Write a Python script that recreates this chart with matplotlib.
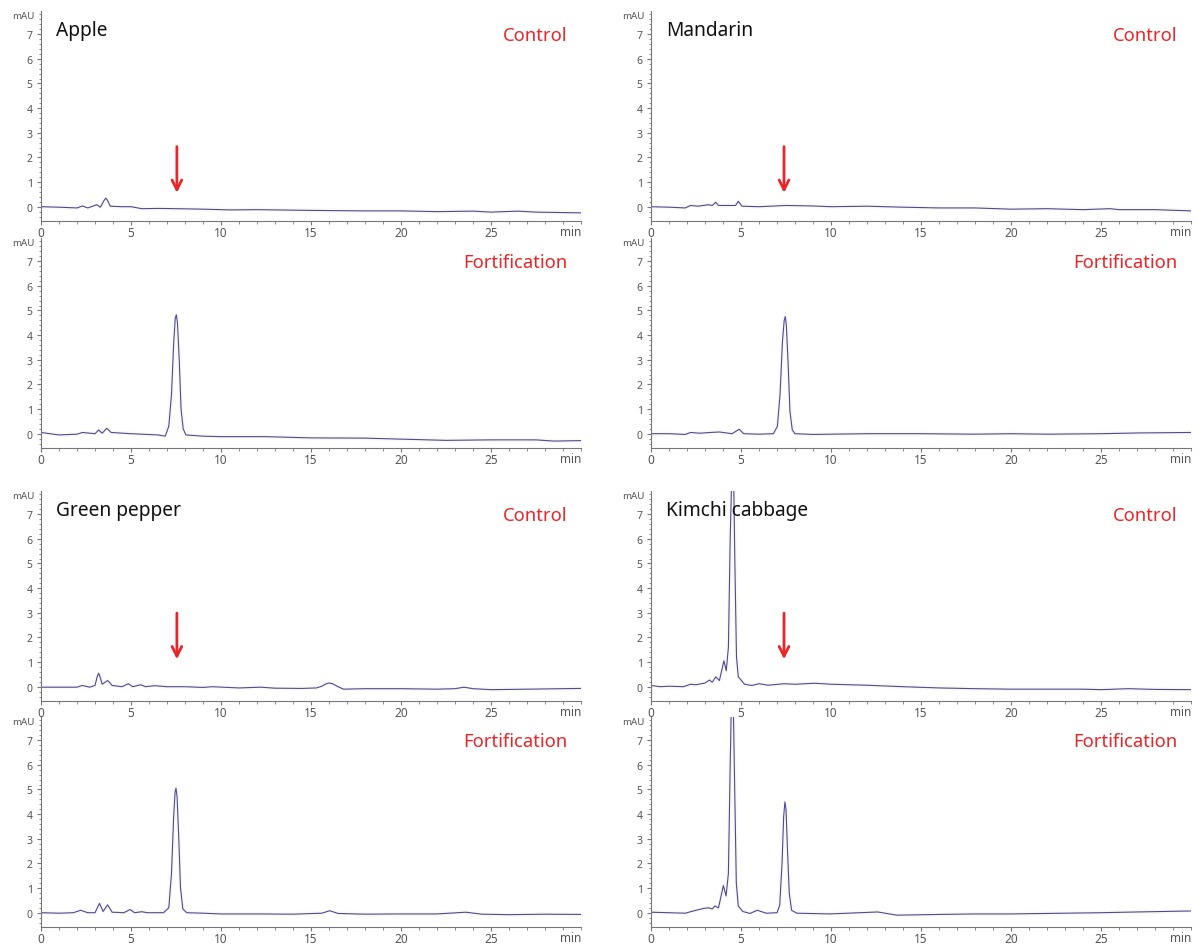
import matplotlib
matplotlib.use('Agg')
import matplotlib.pyplot as plt
from matplotlib.ticker import MultipleLocator, FixedLocator
import matplotlib.transforms as mtransforms

plt.rcParams['font.family'] = ['Noto Sans', 'DejaVu Sans']

# ---- chromatogram traces (time in min, signal in mAU) ----
apple_ctrl_t = [0, 1, 2, 2.3, 2.6, 3.1, 3.3, 3.5, 3.6, 3.7, 3.85, 4.5, 5, 5.6, 6.5, 7.5, 9, 10.5, 12, 15, 18, 20, 22, 24, 25, 26.5, 27.5, 30]
apple_ctrl_y = [0.0, -0.02, -0.05, 0.03, -0.05, 0.08, -0.02, 0.25, 0.35, 0.25, 0.02, 0.0, 0.0, -0.08, -0.07, -0.08, -0.1, -0.13, -0.12, -0.15, -0.17, -0.17, -0.2, -0.18, -0.22, -0.18, -0.22, -0.25]

apple_fort_t = [0, 1, 2, 2.3, 3, 3.2, 3.4, 3.65, 3.9, 5, 6.5, 6.9, 7.1, 7.25, 7.38, 7.46, 7.52, 7.58, 7.68, 7.78, 7.9, 8.05, 9, 10, 12.5, 15, 18, 20, 22.5, 25, 27.5, 28.5, 30]
apple_fort_y = [0.05, -0.05, -0.02, 0.05, 0.0, 0.15, 0.02, 0.22, 0.05, 0.0, -0.05, -0.1, 0.3, 1.6, 3.8, 4.7, 4.82, 4.5, 3.0, 1.0, 0.2, -0.05, -0.1, -0.12, -0.12, -0.17, -0.18, -0.22, -0.27, -0.25, -0.25, -0.3, -0.28]

mandarin_ctrl_t = [0, 1, 1.9, 2.2, 2.6, 3.2, 3.4, 3.6, 3.75, 4.7, 4.85, 5.05, 6, 7.5, 9, 10, 12, 14, 16, 18, 20, 22, 24, 25.5, 26, 28, 30]
mandarin_ctrl_y = [0.0, -0.02, -0.05, 0.05, 0.02, 0.08, 0.05, 0.18, 0.05, 0.05, 0.22, 0.02, 0.0, 0.05, 0.03, 0.0, 0.02, -0.02, -0.05, -0.05, -0.1, -0.08, -0.12, -0.08, -0.12, -0.12, -0.17]

mandarin_fort_t = [0, 1, 1.9, 2.2, 2.7, 3.3, 3.8, 4.5, 4.9, 5.15, 6, 6.8, 7.02, 7.17, 7.3, 7.4, 7.46, 7.52, 7.62, 7.72, 7.85, 8.0, 9, 10, 12, 15, 18, 20, 22, 25, 27, 30]
mandarin_fort_y = [0.0, 0.0, -0.03, 0.05, 0.02, 0.05, 0.07, 0.0, 0.18, 0.0, -0.02, 0.0, 0.3, 1.6, 3.7, 4.6, 4.75, 4.4, 2.8, 0.9, 0.15, 0.0, -0.03, -0.02, 0.0, 0.0, -0.02, 0.0, -0.02, 0.0, 0.03, 0.05]

pepper_ctrl_t = [0, 1, 2, 2.3, 2.7, 3.0, 3.12, 3.2, 3.28, 3.4, 3.6, 3.7, 3.8, 3.95, 4.5, 4.85, 5.1, 5.55, 5.8, 6.3, 7, 8, 9, 9.5, 11, 12.2, 13, 14.5, 15.3, 15.6, 15.85, 16.0, 16.2, 16.5, 16.8, 18, 20, 22, 23, 23.5, 24, 25, 27, 30]
pepper_ctrl_y = [-0.02, -0.02, -0.02, 0.05, -0.02, 0.05, 0.4, 0.55, 0.4, 0.1, 0.2, 0.25, 0.18, 0.05, 0.0, 0.12, 0.0, 0.08, 0.0, 0.04, 0.0, 0.0, -0.03, 0.0, -0.05, -0.02, -0.06, -0.07, -0.05, 0.02, 0.12, 0.15, 0.12, 0.0, -0.1, -0.08, -0.08, -0.1, -0.08, -0.02, -0.08, -0.12, -0.1, -0.07]

pepper_fort_t = [0, 1, 1.8, 2.2, 2.6, 3.0, 3.25, 3.45, 3.7, 3.95, 4.6, 4.95, 5.2, 5.6, 5.9, 6.8, 7.1, 7.25, 7.37, 7.45, 7.5, 7.56, 7.65, 7.75, 7.88, 8.1, 9, 10, 12, 14, 15.6, 16.05, 16.5, 18, 20, 22, 23.6, 24.5, 26, 28, 30]
pepper_fort_y = [0.0, -0.02, 0.0, 0.1, 0.0, 0.0, 0.38, 0.05, 0.32, 0.02, 0.0, 0.13, 0.0, 0.04, 0.0, 0.0, 0.2, 1.6, 3.9, 4.9, 5.05, 4.7, 3.1, 1.0, 0.15, 0.0, -0.02, -0.05, -0.05, -0.06, -0.02, 0.08, -0.03, -0.06, -0.05, -0.05, 0.02, -0.06, -0.08, -0.06, -0.07]

kimchi_ctrl_t = [0, 0.5, 1, 1.8, 2.2, 2.5, 3.0, 3.25, 3.4, 3.6, 3.8, 4.05, 4.18, 4.3, 4.4, 4.5, 4.58, 4.66, 4.75, 4.85, 5.2, 5.6, 6.0, 6.5, 7.4, 8, 9.1, 10, 12, 14, 16, 18, 20, 22, 24, 25, 26.5, 28, 30]
kimchi_ctrl_y = [0.05, 0.0, 0.02, 0.0, 0.1, 0.08, 0.15, 0.27, 0.18, 0.4, 0.25, 1.05, 0.65, 1.6, 6.0, 9.0, 9.0, 5.0, 1.2, 0.4, 0.1, 0.05, 0.12, 0.06, 0.12, 0.1, 0.14, 0.1, 0.06, 0.0, -0.05, -0.08, -0.1, -0.1, -0.1, -0.12, -0.08, -0.11, -0.12]

kimchi_fort_t = [0, 1, 1.9, 2.35, 2.9, 3.2, 3.4, 3.55, 3.75, 4.02, 4.17, 4.3, 4.4, 4.48, 4.56, 4.65, 4.74, 4.85, 5.1, 5.5, 5.9, 6.4, 7.0, 7.15, 7.28, 7.37, 7.44, 7.5, 7.58, 7.68, 7.81, 8.1, 9.94, 12.6, 13.65, 16.05, 18, 20, 22, 25, 27, 30]
kimchi_fort_y = [0.02, 0.0, -0.02, 0.07, 0.17, 0.2, 0.15, 0.27, 0.2, 1.1, 0.68, 1.6, 6.0, 9.0, 9.0, 5.0, 1.2, 0.27, 0.05, -0.03, 0.1, -0.02, 0.0, 0.3, 2.0, 3.9, 4.49, 4.2, 2.6, 0.8, 0.1, -0.02, -0.05, 0.03, -0.1, -0.07, -0.05, -0.05, -0.03, 0.0, 0.03, 0.07]

samples = ['Apple', 'Mandarin', 'Green pepper', 'Kimchi cabbage']
conditions = ['Control', 'Fortification']
arrow_x = [7.55, 7.39, 7.55, 7.39]          # retention time marked in the control runs
arrow_span = [(2.55, 0.45), (2.55, 0.45), (3.1, 1.0), (3.1, 1.0)]

traces = {
    ('Apple', 'Control'): (apple_ctrl_t, apple_ctrl_y),
    ('Apple', 'Fortification'): (apple_fort_t, apple_fort_y),
    ('Mandarin', 'Control'): (mandarin_ctrl_t, mandarin_ctrl_y),
    ('Mandarin', 'Fortification'): (mandarin_fort_t, mandarin_fort_y),
    ('Green pepper', 'Control'): (pepper_ctrl_t, pepper_ctrl_y),
    ('Green pepper', 'Fortification'): (pepper_fort_t, pepper_fort_y),
    ('Kimchi cabbage', 'Control'): (kimchi_ctrl_t, kimchi_ctrl_y),
    ('Kimchi cabbage', 'Fortification'): (kimchi_fort_t, kimchi_fort_y),
}

RED = '#e8262a'
LINE = '#4a4a9e'
AXC = '#777777'
TXT = '#555555'

W, H = 1204, 945
fig = plt.figure(figsize=(W / 100, H / 100), dpi=100)

col_left = [41, 651]
row_top = [[12, 239], [492, 718]]
ax_w, ax_h = 540, 210


def draw_panel(ax, t, y, name=None, label='', arrow=None):
    ax.plot(t, y, color='#f8f5dc', lw=3, alpha=0.5, zorder=1)
    ax.plot(t, y, color=LINE, lw=0.8, zorder=2)
    ax.set_xlim(0, 30)
    ax.set_ylim(-0.58, 7.94)
    for s in ['top', 'right']:
        ax.spines[s].set_visible(False)
    for s in ['left', 'bottom']:
        ax.spines[s].set_color(AXC)
        ax.spines[s].set_linewidth(0.8)

    ax.xaxis.set_major_locator(FixedLocator([0, 5, 10, 15, 20, 25]))
    ax.xaxis.set_minor_locator(MultipleLocator(1))
    ax.yaxis.set_major_locator(MultipleLocator(1))
    ax.yaxis.set_minor_locator(MultipleLocator(0.2))
    ax.tick_params(axis='x', which='major', length=3, color=AXC, labelsize=8.5, labelcolor=TXT, pad=0.5)
    ax.tick_params(axis='x', which='minor', length=2, color=AXC)
    ax.tick_params(axis='y', which='major', length=3, color=AXC, labelsize=7.5, labelcolor=TXT, pad=3)
    ax.tick_params(axis='y', which='minor', length=1.5, color=AXC, width=0.6)

    off = mtransforms.offset_copy(ax.transAxes, fig=fig, x=0, y=-3, units='points')
    ax.text(1.0, 0.0, 'min', transform=off, ha='right', va='top', fontsize=8.5, color=TXT)
    off2 = mtransforms.offset_copy(ax.transAxes, fig=fig, x=-5, y=0, units='points')
    ax.text(0.0, 1.0, 'mAU', transform=off2, ha='right', va='top', fontsize=7, color=TXT)

    if name:
        ax.text(0.028, 0.91, name, transform=ax.transAxes, ha='left', va='center',
                fontsize=13.8, color='#111111')
    ax.text(0.975, 0.885, label, transform=ax.transAxes, ha='right', va='center',
            fontsize=13.3, color=RED)
    if arrow is not None:
        x, (y0, y1) = arrow
        ax.annotate('', xy=(x, y1), xytext=(x, y0),
                    arrowprops=dict(arrowstyle='->,head_width=0.35,head_length=0.7',
                                    color=RED, lw=2))


for i, name in enumerate(samples):
    col = i % 2
    block = i // 2
    for j, cond in enumerate(conditions):
        top = row_top[block][j]
        rect = [col_left[col] / W, 1 - (top + ax_h) / H, ax_w / W, ax_h / H]
        ax = fig.add_axes(rect)
        t, y = traces[(name, cond)]
        arrow = (arrow_x[i], arrow_span[i]) if cond == 'Control' else None
        draw_panel(ax, t, y, name if cond == 'Control' else None, cond, arrow)

fig.savefig('out.png', dpi=100)
